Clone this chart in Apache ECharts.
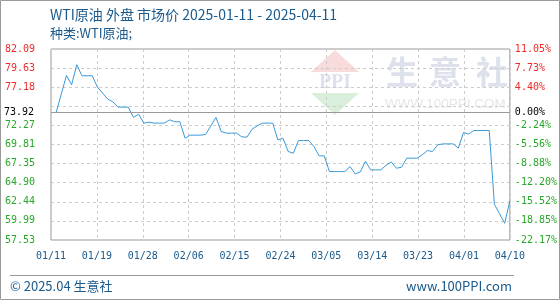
<!DOCTYPE html>
<html><head><meta charset="utf-8">
<script src="https://cdn.jsdelivr.net/npm/echarts@6/dist/echarts.min.js"></script>
<style>html,body{margin:0;padding:0;background:#fff}#c{width:560px;height:300px}</style>
</head><body><div id="c"></div>
<script>
// Daily market price, 2025-01-11 .. 2025-04-10 (one value per day)
const values = [
  73.92, 73.92, 76.30, 78.69, 77.49, 80.07, 78.65, 78.65, 78.65, 77.19,
  76.42, 75.65, 75.30, 74.62, 74.62, 74.62, 73.29, 73.71, 72.56, 72.68,
  72.56, 72.56, 72.56, 72.98, 72.73, 72.73, 70.62, 71.01, 71.01, 71.01,
  71.10, 72.21, 73.29, 71.48, 71.27, 71.27, 71.27, 70.80, 70.75, 71.78,
  72.21, 72.56, 72.56, 72.56, 70.41, 70.62, 68.91, 68.69, 70.32, 70.32,
  70.32, 69.55, 68.35, 68.35, 66.33, 66.33, 66.33, 66.33, 66.97, 66.03,
  66.29, 67.66, 66.55, 66.55, 66.55, 67.15, 67.57, 66.76, 66.89, 68.05,
  68.05, 68.05, 68.48, 69.03, 68.91, 69.76, 69.89, 69.89, 69.89, 69.34,
  71.35, 71.14, 71.61, 71.61, 71.61, 71.61, 62.13, 60.90, 59.68, 62.55
];
const xTickLabels = ['01/11','01/19','01/28','02/06','02/15','02/24','03/05','03/14','03/23','04/01','04/10'];
// bottom -> top
const leftTickLabels = ['57.53','59.99','62.44','64.90','67.35','69.81','72.27','','77.18','79.63','82.09'];
const rightTickLabels = ['-22.17%','-18.85%','-15.52%','-12.20%','-8.88%','-5.56%','-2.24%','','4.40%','7.73%','11.05%'];
const baseValue = 73.92;
const baseLabelLeft = '73.92';
const baseLabelRight = '0.00%';
const yMin = 57.53, yMax = 82.09;

const RED = '#ee2a2a', GREEN = '#28a828', BLUE_TXT = '#1a5a8c';
const MONO = 'DejaVu Sans Mono';
const chart = echarts.init(document.getElementById('c'), null, {renderer: 'canvas'});
const labelColor = (v) => (Number(v) >= 7.5 ? RED : GREEN);
const dashed = {show: true, lineStyle: {color: '#cccccc', type: [3, 3], width: 1}};

chart.setOption({
  animation: false,
  backgroundColor: '#fff',
  grid: {left: 51, right: 50, top: 49, bottom: 60, show: true, borderColor: '#999', borderWidth: 1, backgroundColor: 'transparent'},
  xAxis: [
    {type: 'value', min: 0, max: values.length - 1, show: false},
    {type: 'value', min: 0, max: 10, interval: 1, position: 'bottom',
      axisLine: {show: false}, axisTick: {show: false}, splitLine: dashed,
      axisLabel: {formatter: (v) => xTickLabels[Math.round(v)], color: BLUE_TXT, fontFamily: MONO, fontSize: 10, margin: 11, showMinLabel: true, showMaxLabel: true}}
  ],
  yAxis: [
    {type: 'value', min: yMin, max: yMax, show: false},
    {type: 'value', min: 0, max: 10, interval: 1, position: 'left',
      axisLine: {show: false}, axisTick: {show: false}, splitLine: dashed,
      axisLabel: {formatter: (v) => leftTickLabels[Math.round(v)], color: labelColor, fontFamily: MONO, fontSize: 10, margin: 16, showMinLabel: true, showMaxLabel: true}},
    {type: 'value', min: 0, max: 10, interval: 1, position: 'right',
      axisLine: {show: false}, axisTick: {show: false}, splitLine: {show: false},
      axisLabel: {formatter: (v) => rightTickLabels[Math.round(v)], color: labelColor, fontFamily: MONO, fontSize: 10, margin: 5, showMinLabel: true, showMaxLabel: true}}
  ],
  series: [{
    type: 'line', xAxisIndex: 0, yAxisIndex: 0,
    data: values.map((v, i) => [i, v]),
    symbol: 'none', lineStyle: {color: '#3a9ad9', width: 1}, z: 3,
    markLine: {
      silent: true, symbol: 'none', animation: false,
      lineStyle: {color: '#999', type: 'solid', width: 1},
      data: [
        {yAxis: baseValue, label: {show: true, position: 'start', distance: 17, formatter: baseLabelLeft, color: '#000', fontFamily: MONO, fontSize: 10}},
        {yAxis: baseValue, label: {show: true, position: 'end', distance: 5, formatter: baseLabelRight, color: '#000', fontFamily: MONO, fontSize: 10}}
      ]
    }
  }],
  graphic: [
    {type: 'rect', z: -1, silent: true, shape: {x: 0.5, y: 0.5, width: 559, height: 299}, style: {fill: 'none', stroke: '#9a9a9a', lineWidth: 1}},
    {type: 'text', x: 50, y: 15, style: {text: 'WTI原油 外盘 市场价 2025-01-11 - 2025-04-11', fill: BLUE_TXT, font: '14px "Noto Sans CJK SC"', textVerticalAlign: 'middle'}},
    {type: 'text', x: 50, y: 33, style: {text: '种类:WTI原油;', fill: BLUE_TXT, font: '13px "Noto Sans CJK SC"', textVerticalAlign: 'middle'}},
    {type: 'line', silent: true, shape: {x1: 10, y1: 275.5, x2: 514, y2: 275.5}, style: {stroke: '#999', lineWidth: 1}},
    {type: 'text', x: 10, y: 286, style: {text: '© 2025.04 生意社', fill: BLUE_TXT, font: '13px "Noto Sans CJK SC"', textVerticalAlign: 'middle'}},
    {type: 'text', x: 512, y: 286, style: {text: 'www.100PPI.com', fill: BLUE_TXT, font: '13px "Noto Sans CJK SC"', textAlign: 'right', textVerticalAlign: 'middle'}},
    // watermark
    {type: 'polygon', z: -1, silent: true, shape: {points: [[335, 50], [311, 72], [359, 72]]}, style: {fill: '#f8dbdb'}},
    {type: 'polygon', z: -1, silent: true, shape: {points: [[311, 93], [359, 93], [335, 115]]}, style: {fill: '#d9efdc'}},
    {type: 'text', z: -1, silent: true, x: 335, y: 83, style: {text: 'PPI', fill: '#dde3ee', font: 'bold 20px "Liberation Serif"', textAlign: 'center', textVerticalAlign: 'middle'}},
    {type: 'text', z: -1, silent: true, x: 402, y: 72, style: {text: '生', fill: '#dde1ec', font: 'bold 32px "Noto Sans CJK SC"', textAlign: 'center', textVerticalAlign: 'middle'}},
    {type: 'text', z: -1, silent: true, x: 445, y: 72, style: {text: '意', fill: '#dde1ec', font: 'bold 32px "Noto Sans CJK SC"', textAlign: 'center', textVerticalAlign: 'middle'}},
    {type: 'text', z: -1, silent: true, x: 492, y: 72, style: {text: '社', fill: '#dde1ec', font: 'bold 32px "Noto Sans CJK SC"', textAlign: 'center', textVerticalAlign: 'middle'}},
    {type: 'text', z: -1, silent: true, x: 385, y: 104, style: {text: 'WWW.100PPI.COM', fill: '#e6e6e6', font: '13.5px "Liberation Sans"', textVerticalAlign: 'middle'}}
  ]
});
</script></body></html>
